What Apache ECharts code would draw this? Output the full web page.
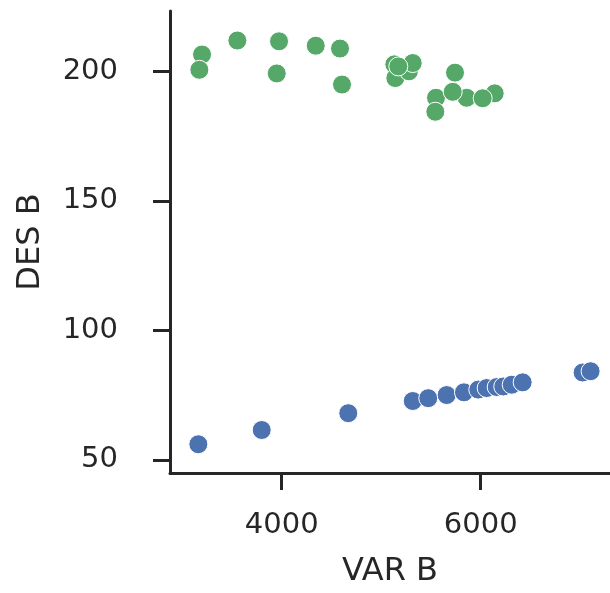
<!DOCTYPE html>
<html>
<head>
<meta charset="utf-8">
<script src="https://cdn.jsdelivr.net/npm/echarts@6/dist/echarts.min.js"></script>
<style>
  html, body { margin: 0; padding: 0; background: #fff; }
  #chart { width: 610px; height: 593px; }
</style>
</head>
<body>
<div id="chart"></div>
<script>
// Group with high DES B values
const greenVar = [3199, 3172, 3554, 3973, 3950, 4342, 4586, 4606, 5132, 5142, 5279, 5317, 5172, 5742, 5551, 5859, 5544, 6141, 5719, 6020];
const greenDes = [206.5, 200.6, 211.9, 211.6, 199.2, 209.9, 208.8, 194.9, 202.7, 197.4, 200.0, 203.2, 201.9, 199.5, 189.8, 189.8, 184.4, 191.5, 192.1, 189.6];

// Group with low DES B values
const blueVar = [3162, 3799, 4669, 5317, 5473, 5658, 5832, 5976, 6060, 6161, 6227, 6312, 6422, 7025, 7105];
const blueDes = [56.0, 61.5, 68.0, 72.7, 73.8, 75.0, 76.05, 77.1, 77.7, 78.1, 78.3, 79.0, 79.9, 83.7, 84.2];

const xTicks = [4000, 6000];
const yTicks = [50, 100, 150, 200];

const pairs = (xs, ys) => xs.map((x, i) => [x, ys[i]]);

const axisColor = '#262626';
const font = 'DejaVu Sans';

const chart = echarts.init(document.getElementById('chart'), null, { renderer: 'canvas' });

chart.setOption({
  animation: false,
  backgroundColor: '#ffffff',
  grid: { left: 170, top: 11, right: 0, bottom: 116, containLabel: false },
  xAxis: {
    type: 'value',
    min: 2877,
    max: 7300,
    name: 'VAR B',
    nameLocation: 'middle',
    nameGap: 83,
    nameTextStyle: { color: axisColor, fontFamily: font, fontSize: 32 },
    splitLine: { show: false },
    axisLine: { show: true, lineStyle: { color: axisColor, width: 3 } },
    axisTick: { show: true, length: 17, lineStyle: { color: axisColor, width: 3 },
      customValues: xTicks },
    axisLabel: { color: axisColor, fontFamily: font, fontSize: 29, margin: 38,
      customValues: xTicks, formatter: v => String(v) }
  },
  yAxis: {
    type: 'value',
    min: 44.9,
    max: 223.3,
    name: 'DES B',
    nameLocation: 'middle',
    nameGap: 123,
    nameTextStyle: { color: axisColor, fontFamily: font, fontSize: 32 },
    splitLine: { show: false },
    axisLine: { show: true, lineStyle: { color: axisColor, width: 3 } },
    axisTick: { show: true, length: 17, lineStyle: { color: axisColor, width: 3 },
      customValues: yTicks },
    axisLabel: { color: axisColor, fontFamily: font, fontSize: 29, margin: 52,
      customValues: yTicks, formatter: v => String(v) }
  },
  series: [
    {
      type: 'scatter',
      data: pairs(blueVar, blueDes),
      symbol: 'circle',
      symbolSize: 19,
      itemStyle: { color: '#4c72b0', borderColor: '#ffffff', borderWidth: 1, opacity: 1 }
    },
    {
      type: 'scatter',
      data: pairs(greenVar, greenDes),
      symbol: 'circle',
      symbolSize: 19,
      itemStyle: { color: '#55a868', borderColor: '#ffffff', borderWidth: 1, opacity: 1 }
    }
  ]
});
</script>
</body>
</html>
